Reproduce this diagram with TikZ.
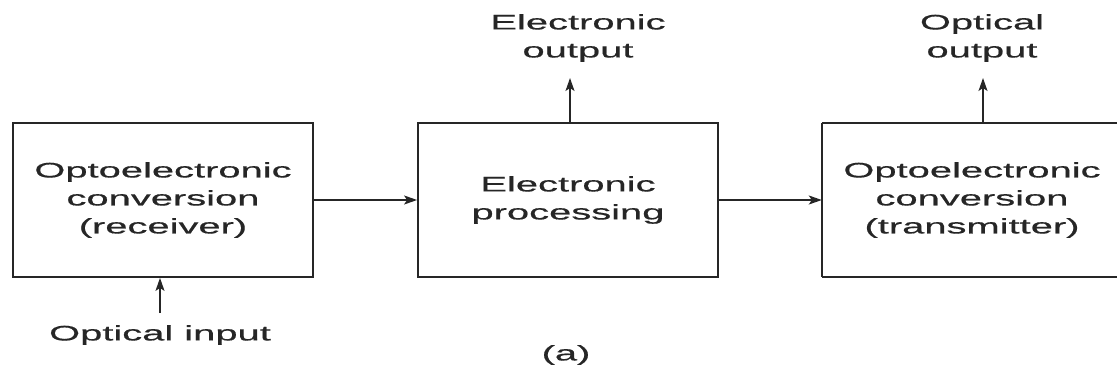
\documentclass[tikz,border=0pt]{standalone}
\usepackage{fontspec}
\setmainfont{Liberation Sans}[FakeStretch=1.9,FakeBold=0.6]
\usetikzlibrary{arrows.meta}
\begin{document}
\begin{tikzpicture}[x=1pt,y=-1pt,
 blk/.style={draw=black!85, line width=1.8pt, minimum width=300pt, minimum height=154pt, inner sep=0pt, align=center, font=\fontsize{21}{28}\selectfont, text=black!85},
 openblk/.style={minimum width=300pt, minimum height=154pt, inner sep=0pt, align=center, font=\fontsize{21}{28}\selectfont, text=black!85},
 edge/.style={draw=black!85, line width=1.8pt},
 lbl/.style={align=center, font=\fontsize{21}{28}\selectfont, inner sep=0pt, text=black!85},
 conn/.style={draw=black!85, line width=1.4pt, -{Stealth[length=13pt,width=9pt,inset=3pt]}}]
\useasboundingbox (0,0) rectangle (1117,383);
\node[blk] (rx) at (163,200) {Optoelectronic\\conversion\\(receiver)};
\node[blk] (ep) at (568,200) {Electronic\\processing};
\node[openblk] (tx) at (972,200) {Optoelectronic\\conversion\\(transmitter)};
\draw[edge] (tx.north west) -- (1117,0 |- tx.north west);
\draw[edge] (tx.south west) -- (1117,0 |- tx.south west);
\draw[edge] (tx.north west) -- (tx.south west);
\node[lbl] (oi) at (160,335) {Optical input};
\node[lbl] (eo) at (578,38) {Electronic\\output};
\node[lbl] (oo) at (982,38) {Optical\\output};
\node[lbl] (a) at (566,355) {(a)};
\coordinate (oiA) at (160,313);
\coordinate (eoA) at (570,78);
\coordinate (ooA) at (983,78);
\draw[conn] (rx) -- (ep);
\draw[conn] (ep) -- (tx);
\draw[conn] (oiA) -- (oiA |- rx.south);
\draw[conn] (eoA |- ep.north) -- (eoA);
\draw[conn] (ooA |- tx.north) -- (ooA);
\end{tikzpicture}
\end{document}
